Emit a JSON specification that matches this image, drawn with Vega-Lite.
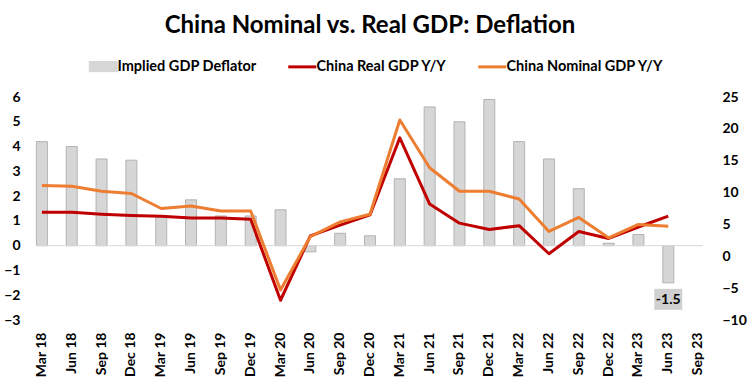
{
  "$schema": "https://vega.github.io/schema/vega-lite/v6.json",
  "width": 686,
  "height": 223,
  "autosize": {"type": "none"},
  "padding": {"left": 27, "top": 97, "right": 36, "bottom": 67},
  "background": "white",
  "config": {
    "view": {"stroke": null},
    "font": "Lato",
    "axis": {"labelFont": "Lato", "labelFontWeight": "bold", "labelFontSize": 14, "labelColor": "#000000", "grid": false, "domain": false, "ticks": false, "title": null}
  },
  "title": {"text": "China Nominal vs. Real GDP: Deflation", "font": "Lato", "fontSize": 24, "fontWeight": "bold", "color": "#000000", "anchor": "middle", "offset": 21},
  "datasets": {
    "bars": [
      {"q": "Mar 18", "v": 4.2}, {"q": "Jun 18", "v": 4.0}, {"q": "Sep 18", "v": 3.5}, {"q": "Dec 18", "v": 3.45},
      {"q": "Mar 19", "v": 1.2}, {"q": "Jun 19", "v": 1.85}, {"q": "Sep 19", "v": 1.2}, {"q": "Dec 19", "v": 1.2},
      {"q": "Mar 20", "v": 1.45}, {"q": "Jun 20", "v": -0.25}, {"q": "Sep 20", "v": 0.5}, {"q": "Dec 20", "v": 0.4},
      {"q": "Mar 21", "v": 2.7}, {"q": "Jun 21", "v": 5.6}, {"q": "Sep 21", "v": 5.0}, {"q": "Dec 21", "v": 5.9},
      {"q": "Mar 22", "v": 4.2}, {"q": "Jun 22", "v": 3.5}, {"q": "Sep 22", "v": 2.3}, {"q": "Dec 22", "v": 0.1},
      {"q": "Mar 23", "v": 0.45}, {"q": "Jun 23", "v": -1.5}
    ],
    "lines": [
      {"q": "Mar 18", "s": "China Real GDP Y/Y", "v": 6.9}, {"q": "Jun 18", "s": "China Real GDP Y/Y", "v": 6.9},
      {"q": "Sep 18", "s": "China Real GDP Y/Y", "v": 6.6}, {"q": "Dec 18", "s": "China Real GDP Y/Y", "v": 6.4},
      {"q": "Mar 19", "s": "China Real GDP Y/Y", "v": 6.3}, {"q": "Jun 19", "s": "China Real GDP Y/Y", "v": 6.0},
      {"q": "Sep 19", "s": "China Real GDP Y/Y", "v": 6.0}, {"q": "Dec 19", "s": "China Real GDP Y/Y", "v": 5.8},
      {"q": "Mar 20", "s": "China Real GDP Y/Y", "v": -6.9}, {"q": "Jun 20", "s": "China Real GDP Y/Y", "v": 3.2},
      {"q": "Sep 20", "s": "China Real GDP Y/Y", "v": 4.9}, {"q": "Dec 20", "s": "China Real GDP Y/Y", "v": 6.5},
      {"q": "Mar 21", "s": "China Real GDP Y/Y", "v": 18.6}, {"q": "Jun 21", "s": "China Real GDP Y/Y", "v": 8.2},
      {"q": "Sep 21", "s": "China Real GDP Y/Y", "v": 5.2}, {"q": "Dec 21", "s": "China Real GDP Y/Y", "v": 4.2},
      {"q": "Mar 22", "s": "China Real GDP Y/Y", "v": 4.8}, {"q": "Jun 22", "s": "China Real GDP Y/Y", "v": 0.4},
      {"q": "Sep 22", "s": "China Real GDP Y/Y", "v": 3.9}, {"q": "Dec 22", "s": "China Real GDP Y/Y", "v": 2.8},
      {"q": "Mar 23", "s": "China Real GDP Y/Y", "v": 4.6}, {"q": "Jun 23", "s": "China Real GDP Y/Y", "v": 6.3},
      {"q": "Mar 18", "s": "China Nominal GDP Y/Y", "v": 11.1}, {"q": "Jun 18", "s": "China Nominal GDP Y/Y", "v": 11.0},
      {"q": "Sep 18", "s": "China Nominal GDP Y/Y", "v": 10.2}, {"q": "Dec 18", "s": "China Nominal GDP Y/Y", "v": 9.85},
      {"q": "Mar 19", "s": "China Nominal GDP Y/Y", "v": 7.5}, {"q": "Jun 19", "s": "China Nominal GDP Y/Y", "v": 7.9},
      {"q": "Sep 19", "s": "China Nominal GDP Y/Y", "v": 7.1}, {"q": "Dec 19", "s": "China Nominal GDP Y/Y", "v": 7.1},
      {"q": "Mar 20", "s": "China Nominal GDP Y/Y", "v": -5.3}, {"q": "Jun 20", "s": "China Nominal GDP Y/Y", "v": 3.1},
      {"q": "Sep 20", "s": "China Nominal GDP Y/Y", "v": 5.4}, {"q": "Dec 20", "s": "China Nominal GDP Y/Y", "v": 6.6},
      {"q": "Mar 21", "s": "China Nominal GDP Y/Y", "v": 21.4}, {"q": "Jun 21", "s": "China Nominal GDP Y/Y", "v": 13.9},
      {"q": "Sep 21", "s": "China Nominal GDP Y/Y", "v": 10.2}, {"q": "Dec 21", "s": "China Nominal GDP Y/Y", "v": 10.2},
      {"q": "Mar 22", "s": "China Nominal GDP Y/Y", "v": 9.0}, {"q": "Jun 22", "s": "China Nominal GDP Y/Y", "v": 3.9},
      {"q": "Sep 22", "s": "China Nominal GDP Y/Y", "v": 6.1}, {"q": "Dec 22", "s": "China Nominal GDP Y/Y", "v": 2.9},
      {"q": "Mar 23", "s": "China Nominal GDP Y/Y", "v": 5.0}, {"q": "Jun 23", "s": "China Nominal GDP Y/Y", "v": 4.7}
    ],
    "label": [{"q": "Jun 23", "v": -1.5, "t": "-1.5"}],
    "zero": [{"v": 0}]
  },
  "encoding": {
    "x": {
      "field": "q", "type": "nominal",
      "scale": {"domain": ["Mar 18","Jun 18","Sep 18","Dec 18","Mar 19","Jun 19","Sep 19","Dec 19","Mar 20","Jun 20","Sep 20","Dec 20","Mar 21","Jun 21","Sep 21","Dec 21","Mar 22","Jun 22","Sep 22","Dec 22","Mar 23","Jun 23","Sep 23"], "paddingInner": 0.63, "paddingOuter": 0.315},
      "axis": {"labelAngle": -90, "labelPadding": 12}
    }
  },
  "layer": [
    {
      "encoding": {
        "y": {"type": "quantitative", "scale": {"domain": [-3, 6], "nice": false, "zero": false}, "axis": {"orient": "left", "values": [-3,-2,-1,0,1,2,3,4,5,6], "labelPadding": 7}}
      },
      "layer": [
        {
          "data": {"name": "bars"},
          "mark": {"type": "bar", "stroke": "#a6a6a6", "strokeWidth": 0.8},
          "encoding": {
            "y": {"field": "v"},
            "color": {"datum": "Implied GDP Deflator", "type": "nominal",
              "scale": {"domain": ["Implied GDP Deflator", "China Real GDP Y/Y", "China Nominal GDP Y/Y"], "range": ["#d6d6d6", "#c00000", "#ed7d31"]},
              "legend": {"orient": "none", "direction": "horizontal", "legendX": 63, "legendY": -38, "title": null, "symbolSize": 784, "symbolStrokeWidth": 3, "labelFont": "Lato", "labelFontSize": 14.5, "labelFontWeight": "bold", "labelColor": "#000000", "labelLimit": 400, "columnPadding": 25, "symbolOffset": 6, "labelOffset": 7,
                "encode": {"symbols": {"update": {
                  "shape": {"signal": "datum.value === 'Implied GDP Deflator' ? 'M-1,-0.36H1V0.36H-1Z' : 'M-1,0H1'"},
                  "fill": {"signal": "datum.value === 'Implied GDP Deflator' ? '#d6d6d6' : 'transparent'"},
                  "stroke": {"signal": "datum.value === 'Implied GDP Deflator' ? '#a6a6a6' : (datum.value === 'China Real GDP Y/Y' ? '#c00000' : '#ed7d31')"},
                  "strokeWidth": {"signal": "datum.value === 'Implied GDP Deflator' ? 1 : 3"},
                  "opacity": {"value": 1}
                }}}
              }
            }
          }
        },
        {
          "data": {"name": "zero"},
          "mark": {"type": "rule", "color": "#d9d9d9", "strokeWidth": 1},
          "encoding": {"y": {"field": "v"}, "x": {"value": 9}, "x2": {"value": 676}}
        },
        {
          "data": {"name": "label"},
          "mark": {"type": "bar", "width": 28, "color": "#d0d0d0", "yOffset": 6, "y2Offset": 27},
          "encoding": {"y": {"field": "v"}, "y2": {"field": "v"}}
        },
        {
          "data": {"name": "label"},
          "mark": {"type": "text", "font": "Lato", "fontSize": 14, "fontWeight": "bold", "color": "#000000", "baseline": "middle", "align": "center", "yOffset": 17},
          "encoding": {"y": {"field": "v"}, "text": {"field": "t"}}
        }
      ]
    },
    {
      "data": {"name": "lines"},
      "mark": {"type": "line", "strokeWidth": 3, "strokeJoin": "round"},
      "encoding": {
        "y": {"field": "v", "type": "quantitative", "scale": {"domain": [-10, 25], "nice": false, "zero": false}, "axis": {"orient": "right", "values": [-10,-5,0,5,10,15,20,25], "labelPadding": 9}},
        "color": {"field": "s", "type": "nominal",
          "legend": {"orient": "none", "direction": "horizontal", "legendX": 63, "legendY": -38, "title": null, "symbolSize": 784, "symbolStrokeWidth": 3, "labelFont": "Lato", "labelFontSize": 14.5, "labelFontWeight": "bold", "labelColor": "#000000", "labelLimit": 400, "columnPadding": 25, "symbolOffset": 6, "labelOffset": 7,
            "encode": {"symbols": {"update": {
              "shape": {"signal": "datum.value === 'Implied GDP Deflator' ? 'M-1,-0.36H1V0.36H-1Z' : 'M-1,0H1'"},
              "fill": {"signal": "datum.value === 'Implied GDP Deflator' ? '#d6d6d6' : 'transparent'"},
              "stroke": {"signal": "datum.value === 'Implied GDP Deflator' ? '#a6a6a6' : (datum.value === 'China Real GDP Y/Y' ? '#c00000' : '#ed7d31')"},
              "strokeWidth": {"signal": "datum.value === 'Implied GDP Deflator' ? 1 : 3"},
              "opacity": {"value": 1}
            }}}
          }
        },
        "order": {"value": 0}
      }
    }
  ],
  "resolve": {"scale": {"y": "independent"}}
}
